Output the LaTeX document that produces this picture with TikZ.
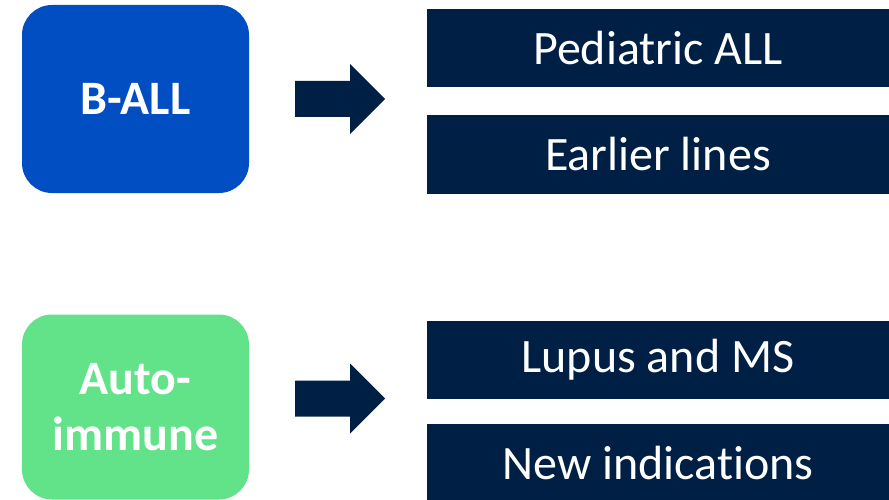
\documentclass[tikz,border=0pt]{standalone}
\usepackage{fontspec}
\setmainfont[Ligatures=NoCommon]{Carlito}
\definecolor{ballblue}{RGB}{0,78,194}
\definecolor{autogreen}{RGB}{98,227,138}
\definecolor{navyc}{RGB}{0,31,69}
\begin{document}
\begin{tikzpicture}[x=1pt,y=-1pt,
  leftbox/.style={rectangle, rounded corners=30pt, inner sep=0pt, minimum width=227pt,
    text=white, align=center, font=\fontsize{48}{56}\selectfont\bfseries},
  rightbox/.style={rectangle, fill=navyc, inner sep=0pt, minimum width=462pt, minimum height=78pt,
    text=white, font=\fontsize{48}{56}\selectfont},
  blockarrow/.style={fill=navyc}
]
\useasboundingbox (0,0) rectangle (889,500);
\fill[white] (0,0) rectangle (889,500);

\node[leftbox, fill=ballblue, minimum height=188pt] (ball) at (135.5,99) {B-ALL};
\node[leftbox, fill=autogreen, minimum height=185pt] (auto) at (135.5,407) {Auto-\\immune};

\node[rightbox] (ped) at (658,48) {Pediatric ALL};
\node[rightbox] (early) at (658,154.5) {Earlier lines};
\node[rightbox] (lupus) at (658,360) {Lupus and MS};
\node[rightbox] (newind) at (658,463) {New indications};

\coordinate (a1) at (295,99);
\coordinate (a2) at (295,398.5);
\foreach \a in {a1,a2}{
  \fill[blockarrow, shift={(\a)}] (0,-18) -- (55,-18) -- (55,-35) -- (90,0) -- (55,35) -- (55,18) -- (0,18) -- cycle;
}
\end{tikzpicture}
\end{document}
